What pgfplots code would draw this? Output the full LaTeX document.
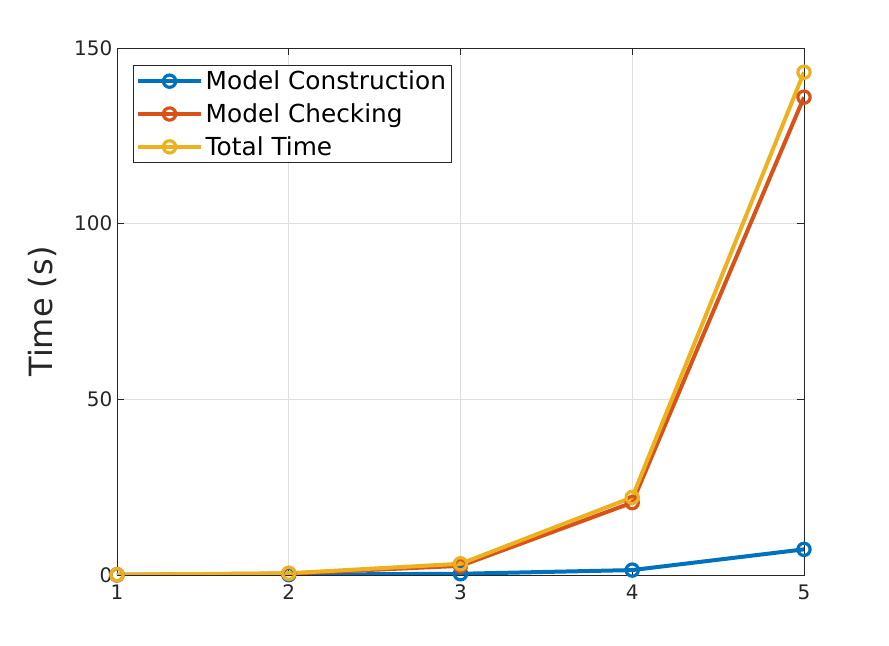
\documentclass[border=0pt]{standalone}
\usepackage{pgfplots}
\pgfplotsset{compat=1.18}
\usepackage{fontspec}
\setmainfont{DejaVu Sans}
\definecolor{mblue}{rgb}{0,0.447,0.741}
\definecolor{mred}{rgb}{0.85,0.325,0.098}
\definecolor{myel}{rgb}{0.929,0.694,0.125}
\definecolor{axgray}{rgb}{0.15,0.15,0.15}
\begin{document}
\begin{tikzpicture}
\begin{axis}[
  scale only axis,
  width=515.25pt, height=395.25pt,
  xmin=1, xmax=5, ymin=0, ymax=150,
  xtick={1,2,3,4,5}, ytick={0,50,100,150},
  tick align=inside, tick pos=both,
  major tick length=5pt,
  axis line style={axgray, line width=0.6pt},
  tick style={axgray, line width=0.6pt},
  grid=major,
  major grid style={gray!25, line width=0.5pt},
  ticklabel style={font=\fontsize{15}{18}\selectfont, text=axgray},
  xticklabel style={yshift=-4pt},
  /pgf/number format/assume math mode=true,
  ylabel={Time (s)},
  ylabel style={font=\fontsize{24}{28}\selectfont, text=axgray, yshift=6pt},
  legend cell align=left,
  legend style={at={(0.0233,0.9677)}, anchor=north west, draw=axgray,
    font=\fontsize{18.6}{23}\selectfont, inner sep=2pt, row sep=5pt,
    line width=0.6pt},
  legend image code/.code={
    \draw[mark repeat=2,mark phase=2] plot coordinates {(0cm,0cm) (0.83cm,0cm) (1.66cm,0cm)};
  },
  every axis plot/.append style={line width=3pt, mark=o, mark size=4.6pt, mark options={line width=2.4pt}},
]
\addplot[color=mblue] coordinates {(1,0.02) (2,0.1) (3,0.35) (4,1.4) (5,7.3)};
\addlegendentry{Model Construction}
\addplot[color=mred] coordinates {(1,0.05) (2,0.4) (3,2.6) (4,20.6) (5,136)};
\addlegendentry{Model Checking}
\addplot[color=myel] coordinates {(1,0.07) (2,0.5) (3,3.2) (4,22.1) (5,143.1)};
\addlegendentry{Total Time}
\path (rel axis cs:0,0) ++(-87.75pt,-53.25pt) coordinate (bl);
\path (rel axis cs:1,1) ++(63.75pt,36pt) coordinate (tr);
\end{axis}
\useasboundingbox (bl) rectangle (tr);
\end{tikzpicture}
\end{document}
